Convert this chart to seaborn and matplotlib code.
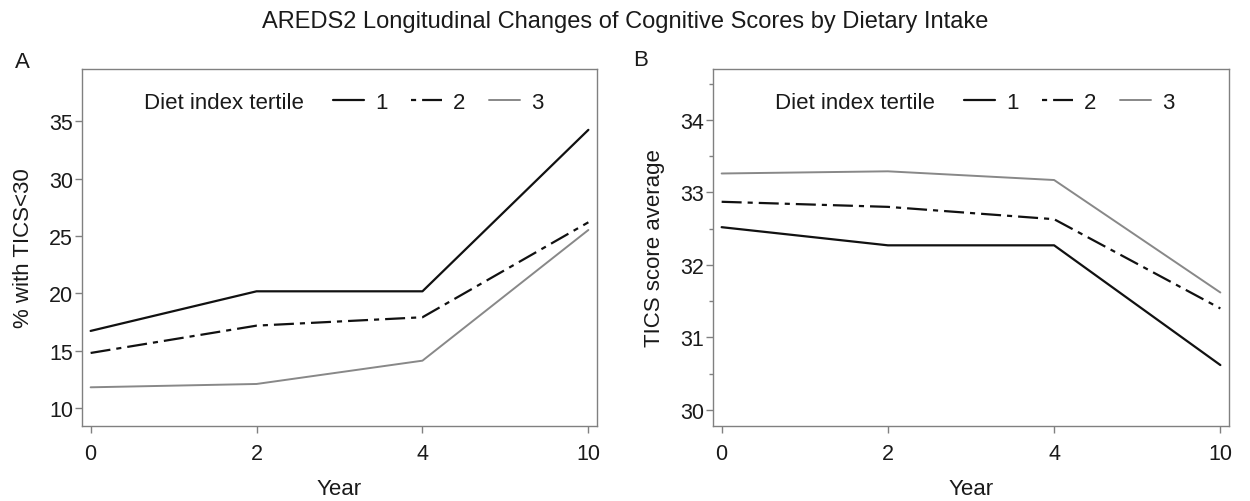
import matplotlib
matplotlib.use("Agg")
import matplotlib.pyplot as plt
import seaborn as sns
import pandas as pd
from matplotlib.lines import Line2D
from matplotlib.ticker import MultipleLocator

# ---- data ----
years = ["0", "2", "4", "10"]
tertiles = ["1", "2", "3"]
pct_t1 = [16.74, 20.19, 20.19, 34.25]
pct_t2 = [14.82, 17.20, 17.93, 26.20]
pct_t3 = [11.83, 12.12, 14.15, 25.53]
tics_t1 = [32.52, 32.27, 32.27, 30.62]
tics_t2 = [32.87, 32.80, 32.63, 31.40]
tics_t3 = [33.26, 33.29, 33.17, 31.62]

title = "AREDS2 Longitudinal Changes of Cognitive Scores by Dietary Intake"
ylab_a = "% with TICS<30"
ylab_b = "TICS score average"
xlab = "Year"
legend_title = "Diet index tertile"


def long_df(series):
    rows = []
    for t, vals in zip(tertiles, series):
        for i, (yr, v) in enumerate(zip(years, vals)):
            rows.append({"pos": i, "year": yr, "tertile": t, "value": v})
    return pd.DataFrame(rows)


df_a = long_df([pct_t1, pct_t2, pct_t3])
df_b = long_df([tics_t1, tics_t2, tics_t3])

sns.set_theme(style="white")
plt.rcParams["font.family"] = ["Liberation Sans", "DejaVu Sans"]

palette = {"1": "#111111", "2": "#111111", "3": "#888888"}
dashes = {"1": "", "2": (9, 2.7, 2.3, 2.7), "3": ""}
widths = {"1": 1.6, "2": 1.6, "3": 1.4}
legend_dash = (0, (2.3, 2.7, 9, 2.7))

fig = plt.figure(figsize=(12.5, 5.02), dpi=100)
ax_a = fig.add_axes([82 / 1250, 1 - 427 / 502, 515 / 1250, 357 / 502])
ax_b = fig.add_axes([713 / 1250, 1 - 427 / 502, 516 / 1250, 357 / 502])

spine_col = "#808080"
txt_col = "#1a1a1a"


def draw(ax, df, ylab, ylim, major, minor=None):
    sns.lineplot(data=df, x="pos", y="value", hue="tertile", style="tertile",
                 palette=palette, dashes=dashes, ax=ax, legend=False,
                 estimator=None)
    for line, t in zip(ax.get_lines(), tertiles):
        line.set_linewidth(widths[t])
    ax.set_xlim(-0.052, 3.052)
    ax.set_ylim(*ylim)
    ax.set_xticks(range(len(years)))
    ax.set_xticklabels(years)
    ax.yaxis.set_major_locator(MultipleLocator(major))
    if minor:
        ax.yaxis.set_minor_locator(MultipleLocator(minor))
    ax.tick_params(axis="both", which="major", direction="out", length=5,
                   width=1, color=spine_col, labelsize=15.5, labelcolor=txt_col,
                   left=True, bottom=True)
    ax.tick_params(axis="x", which="major", pad=7)
    ax.tick_params(axis="y", which="major", pad=1.5)
    ax.tick_params(axis="y", which="minor", direction="out", length=3,
                   width=1, color=spine_col, left=True)
    for s in ax.spines.values():
        s.set_color(spine_col)
        s.set_linewidth(1.0)
    ax.set_xlabel(xlab, fontsize=16, color=txt_col)
    ax.set_ylabel(ylab, fontsize=16, color=txt_col)
    ax.xaxis.set_label_coords(0.5, (427 - 490) / 357)
    ax.xaxis.label.set_va("center")
    ax.yaxis.set_label_coords(-58 / 515, 0.5)
    ax.yaxis.label.set_va("center")

    handles = [Line2D([], [], color="none")]
    labels = [legend_title + " "]
    for t in tertiles:
        ls = legend_dash if t == "2" else "-"
        handles.append(Line2D([], [], color=palette[t], lw=widths[t],
                              linestyle=ls))
        labels.append(t)
    leg = ax.legend(handles, labels, ncol=4, frameon=False, loc="upper left",
                    bbox_to_anchor=(0.03, 0.948), fontsize=16,
                    handlelength=1.4, handletextpad=0.5, columnspacing=1.04,
                    borderaxespad=0, borderpad=0.2)
    for txt in leg.get_texts():
        txt.set_color(txt_col)


draw(ax_a, df_a, ylab_a, (8.46, 39.55), 5)
draw(ax_b, df_b, ylab_b, (29.78, 34.70), 1, 0.5)

fig.text(0.5, 1 - 22 / 502, title, ha="center", va="center", fontsize=17,
         color=txt_col)
fig.text(22 / 1250, 1 - 62 / 502, "A", ha="center", va="center", fontsize=16,
         color=txt_col)
fig.text(641 / 1250, 1 - 61 / 502, "B", ha="center", va="center", fontsize=16,
         color=txt_col)

fig.savefig("out.png", dpi=100, facecolor="white")
